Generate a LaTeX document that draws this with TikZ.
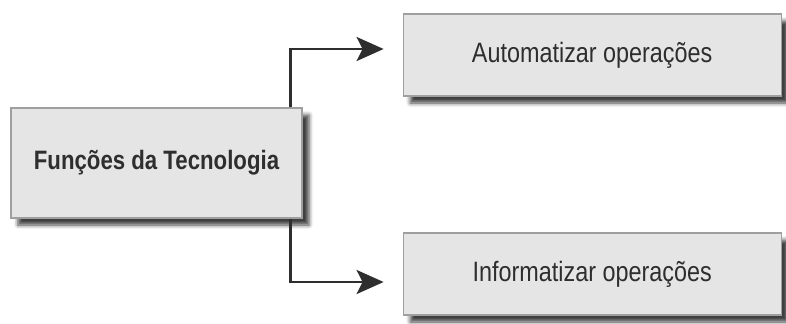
\documentclass[tikz,border=0pt]{standalone}
\usepackage{fontspec}
\setmainfont{Liberation Sans}[FakeStretch=0.835]
\usetikzlibrary{arrows.meta,positioning,shadows.blur}

\tikzset{
  func/.style={rectangle, draw=gray!75, line width=0.6pt, fill=gray!20,
    text=black!82, inner sep=0pt,
    blur shadow={shadow xshift=3.5pt, shadow yshift=-3.5pt,
      shadow blur radius=2pt, shadow opacity=75}},
  oper/.style={func, minimum width=189pt, minimum height=41pt,
    font=\fontsize{14}{17}\selectfont},
  link/.style={->, draw=black!82, line width=1.4pt}
}

\begin{document}
\begin{tikzpicture}[>={Stealth[length=13.5pt,width=12pt,inset=3pt]},node distance=50pt]
  \useasboundingbox (-78.25pt,-80pt) rectangle (314.75pt,81.5pt);

  \node[func, minimum width=145.5pt, minimum height=55pt,
        font=\bfseries\fontsize{13.3}{16}\selectfont] (fn) {Funções da Tecnologia};
  \node[oper] (auto) [right=of fn.east, yshift=54pt]   {Automatizar operações};
  \node[oper] (info) [right=of fn.east, yshift=-55.5pt] {Informatizar operações};

  \draw[link] ([xshift=-6pt]fn.north east) |- ([xshift=-9.5pt,yshift=3pt]auto.west);
  \draw[link] ([xshift=-6pt]fn.south east) |- ([xshift=-9.5pt,yshift=-4pt]info.west);
\end{tikzpicture}
\end{document}
